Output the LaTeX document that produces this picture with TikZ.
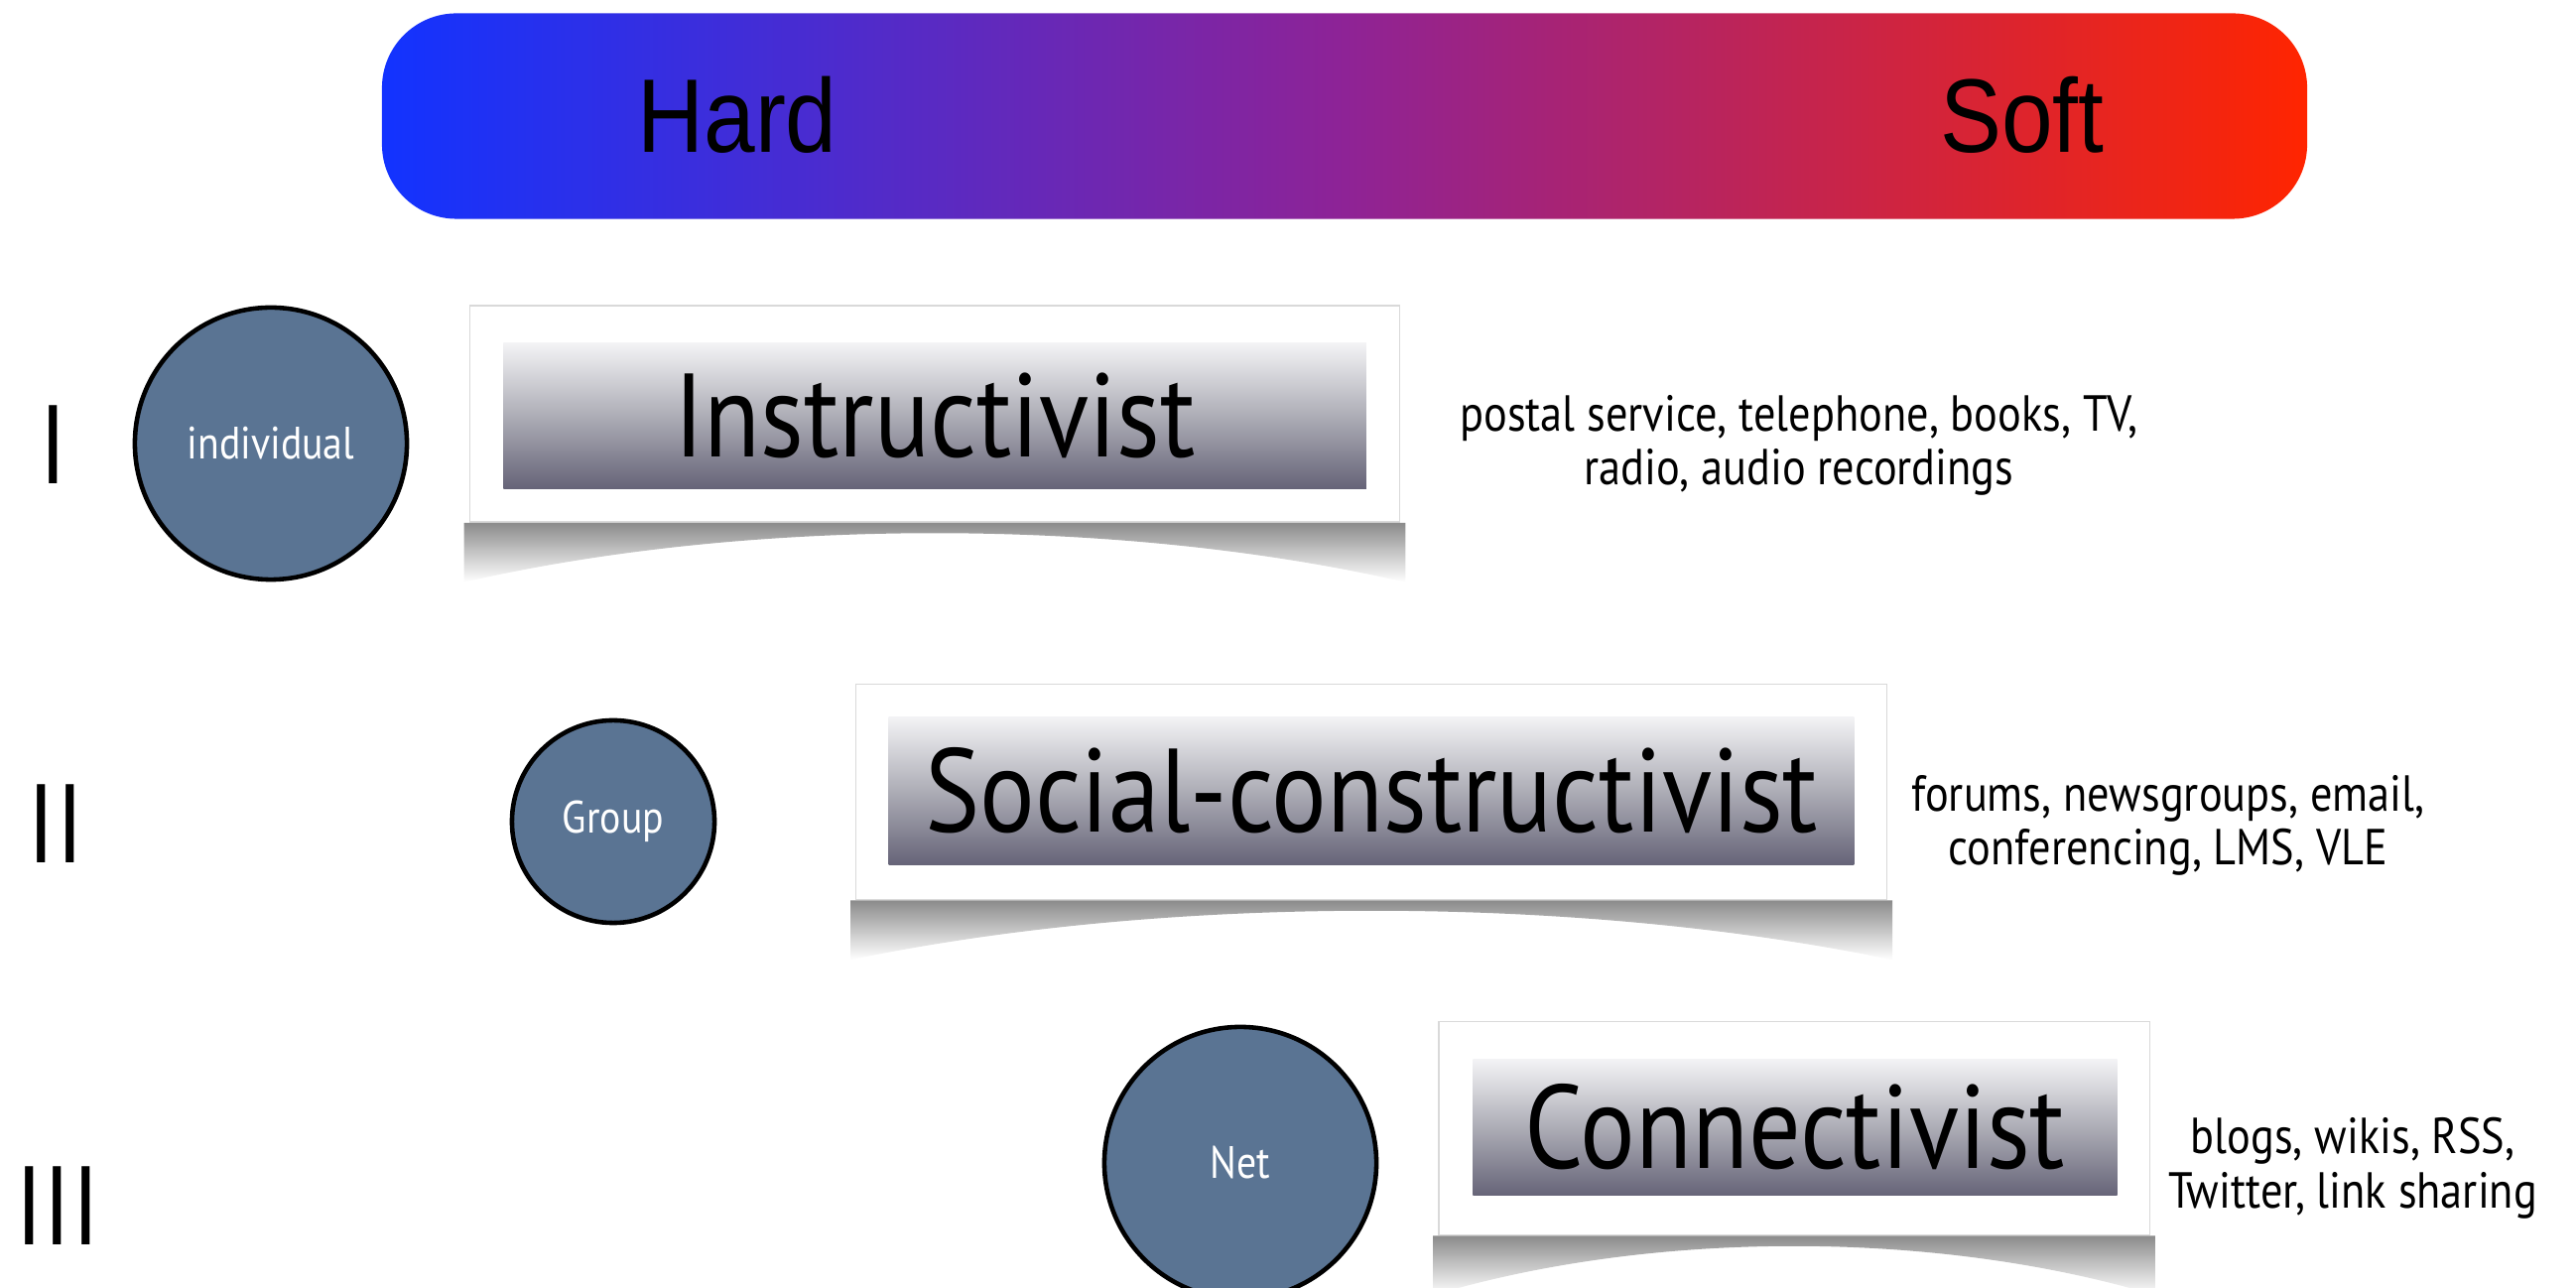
\documentclass[tikz,border=0pt]{standalone}
\usepackage{fontspec}
\setmainfont{PT Sans}
\newfontfamily\gill[FakeStretch=0.87]{PT Sans}
\newfontfamily\helv[FakeStretch=0.88]{Liberation Sans}
\usetikzlibrary{positioning,calc}

\definecolor{hardblue}{HTML}{1233FF}
\definecolor{softred}{HTML}{FF2500}
\definecolor{midpurple}{HTML}{8E2396}
\definecolor{discblue}{HTML}{5A7493}
\definecolor{btntop}{HTML}{F3F3F5}
\definecolor{btnmid}{HTML}{ADADB6}
\definecolor{btnbot}{HTML}{666478}

\tikzstyle{scalebar} = [
        rectangle,
        rounded corners=0.75cm,
        left color=hardblue,
        right color=softred,
        middle color=midpurple
    ]
\tikzstyle{card} = [
        rectangle,
        inner sep=0pt,
        draw=black!15,
        fill=white
    ]
\tikzstyle{button} = [
        rectangle,
        inner sep=0pt,
        top color=btntop,
        bottom color=btnbot,
        middle color=btnmid
    ]
\tikzstyle{disc} = [
        circle,
        inner sep=0pt,
        draw=black,
        line width=1.3pt,
        fill=discblue,
        text=white,
        font=\gill\fontsize{13}{15}\selectfont
    ]
\tikzstyle{level} = [font=\gill\fontsize{34}{40}\selectfont]
\tikzstyle{tools} = [align=center, font=\gill\fontsize{14.5}{15.5}\selectfont]
\tikzstyle{numeral} = [font=\gill\fontsize{32}{36}\selectfont]

% curled shadow under a card
\newcommand{\curlshadow}[1]{%
    \shade [top color=black!50, bottom color=white]
        ([xshift=-0.05cm]#1.south west) -- ([xshift=-0.05cm, yshift=-0.6cm]#1.south west)
        .. controls ($(#1.south west)!0.3!(#1.south east) + (0,0.06cm)$)
        and ($(#1.south west)!0.7!(#1.south east) + (0,0.06cm)$) ..
        ([xshift=0.05cm, yshift=-0.6cm]#1.south east) -- ([xshift=0.05cm]#1.south east) -- cycle;
}

\begin{document}
\begin{tikzpicture}[x=0.01cm, y=-0.01cm]
    \useasboundingbox (0,0) rectangle (2596,1298);

    % hard -- soft scale
    \node (scale) [scalebar, minimum width=19.39cm, minimum height=2.07cm]
        at (1355,117) {};
    \node (hard) [font=\helv\fontsize{30}{34}\selectfont] at (743,116) {Hard};
    \node (soft) [font=\helv\fontsize{30}{34}\selectfont] at (2038,116) {Soft};

    % generations
    \node (one) [numeral] at (54,448) {I};
    \node (two) [numeral] at (56,830) {II};
    \node (three) [numeral] at (58,1215) {III};

    % who learns
    \node (individual) [disc, minimum size=2.74cm] at (273,447) {individual};
    \node (group) [disc, minimum size=2.04cm] at (618,828) {Group};
    \node (net) [disc, minimum size=2.74cm] at (1250,1172) {Net};

    % pedagogies
    \node (instructivist) [card, minimum width=9.37cm, minimum height=2.18cm]
        at (942,417) {};
    \curlshadow{instructivist}
    \node (instructivistbtn) [button, minimum width=8.69cm, minimum height=1.46cm]
        at (942,419) {};
    \node (instructivisttxt) [level] at (instructivistbtn) {Instructivist};

    \node (social) [card, minimum width=10.38cm, minimum height=2.17cm]
        at (1382,798) {};
    \curlshadow{social}
    \node (socialbtn) [button, minimum width=9.72cm, minimum height=1.49cm]
        at (1382,797) {};
    \node (socialtxt) [level] at (socialbtn) {Social-constructivist};

    \node (connectivist) [card, minimum width=7.16cm, minimum height=2.15cm]
        at (1808,1137) {};
    \curlshadow{connectivist}
    \node (connectivistbtn) [button, minimum width=6.49cm, minimum height=1.37cm]
        at (1809,1136) {};
    \node (connectivisttxt) [level] at (connectivistbtn) {Connectivist};

    % technologies
    \node (media) [tools] at (1813,449)
        {postal service, telephone, books, TV,\\radio, audio recordings};
    \node (forums) [tools] at (2185,832)
        {forums, newsgroups, email,\\conferencing, LMS, VLE};
    \node (blogs) [tools] at (2371,1177)
        {blogs, wikis, RSS,\\Twitter, link sharing};
\end{tikzpicture}
\end{document}
